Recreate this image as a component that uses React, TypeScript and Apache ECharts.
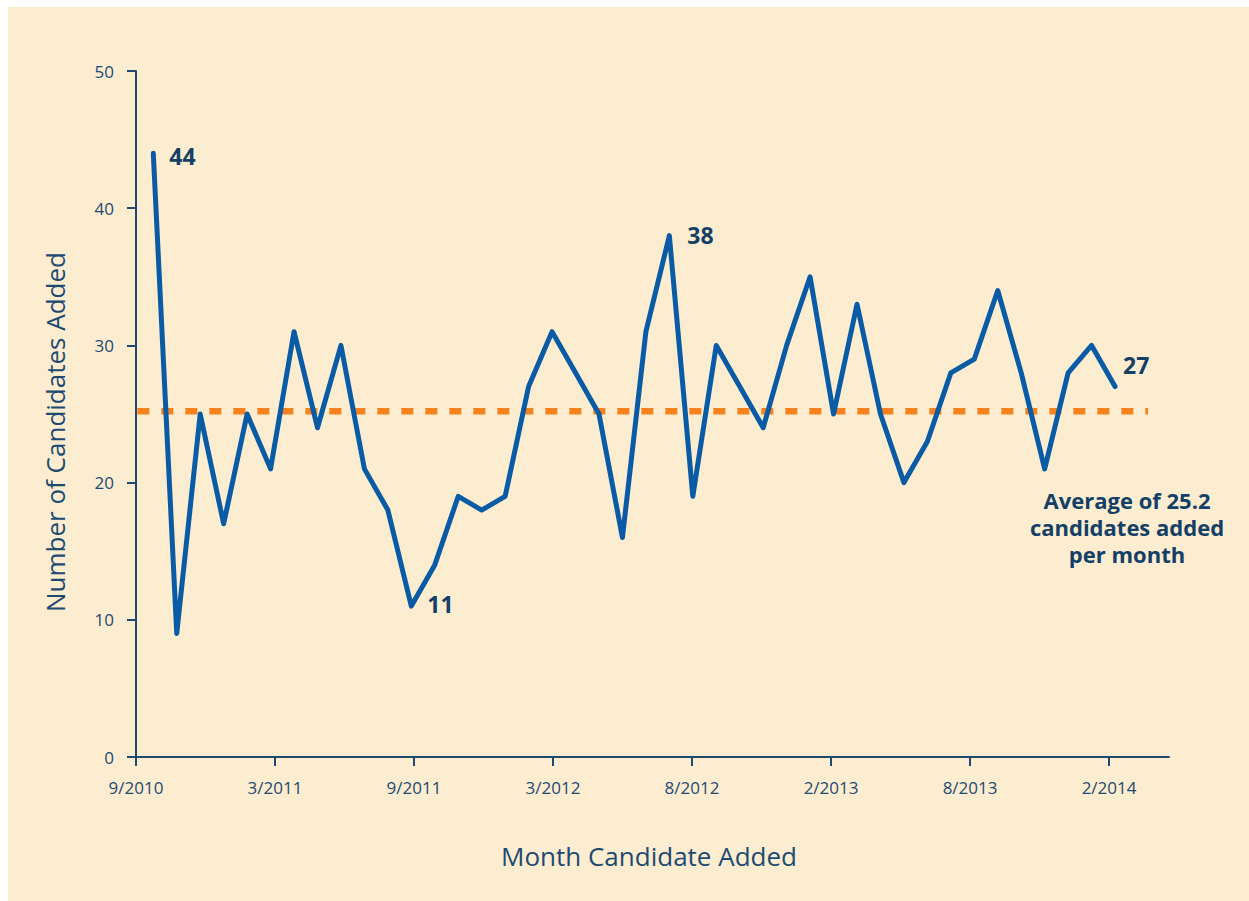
import React, { useEffect, useRef } from "react";
import * as echarts from "echarts";

// ---- data ----
const candidatesAdded = [
  44, 9, 25, 17, 25, 21, 31, 24, 30, 21, 18, 11, 14, 19, 18, 19, 27, 31, 28, 25, 16,
  31, 38, 19, 30, 27, 24, 30, 35, 25, 33, 25, 20, 23, 28, 29, 34, 28, 21, 28, 30, 27,
];
const tickLabels = ["9/2010", "3/2011", "9/2011", "3/2012", "8/2012", "2/2013", "8/2013", "2/2014"];
const averageValue = 25.2;
const labeledPoints = [0, 11, 22, 41];
const annotationLines = ["Average of 25.2", "candidates added", "per month"];
const xTitle = "Month Candidate Added";
const yTitle = "Number of Candidates Added";

// ---- layout / style ----
const NAVY = "#1d4a70";
const NAVY_DARK = "#143f66";
const BLUE = "#0a5ba6";
const ORANGE = "#f5821f";
const BG = "#fcecd0";
const FONT = "'Open Sans', 'Noto Sans', sans-serif";
const TICK_START = -0.737;
const TICK_STEP = 5.926;
const X_MIN = TICK_START;
const X_MAX = 43.3;
const AVG_X0 = -0.68;
const AVG_X1 = 42.41;
const labelOffsets: Record<number, [number, number]> = {
  0: [0, 3],
  11: [0, -2],
  22: [2, -1],
  41: [-8, -22],
};

export default function App() {
  const ref = useRef<HTMLDivElement>(null);
  useEffect(() => {
    if (!ref.current) return;
    const chart = echarts.init(ref.current, undefined, { renderer: "svg" });
    const tickPos = tickLabels.map((_, k) => TICK_START + k * TICK_STEP);
    const lineData = candidatesAdded.map((v, i) => {
      const item: any = { value: [i, v] };
      if (labeledPoints.includes(i)) {
        item.label = {
          show: true,
          position: "right",
          distance: 15,
          offset: labelOffsets[i] || [0, 0],
          formatter: (p: any) => String(p.value[1]),
          color: NAVY_DARK,
          fontSize: 23,
          fontWeight: "bold",
          fontFamily: FONT,
        };
      }
      return item;
    });
    chart.setOption({
      animation: false,
      backgroundColor: BG,
      grid: { left: 128, right: 80, top: 64, bottom: 144, outerBoundsMode: "none", containLabel: false },
      xAxis: {
        type: "value",
        min: X_MIN,
        max: X_MAX,
        axisLine: { show: true, onZero: false, lineStyle: { color: NAVY, width: 2 } },
        axisTick: { show: true, customValues: tickPos, length: 9, lineStyle: { color: NAVY, width: 2 } },
        axisLabel: {
          customValues: tickPos,
          formatter: (v: number) => {
            let best = 0;
            tickPos.forEach((t, k) => {
              if (Math.abs(t - v) < Math.abs(tickPos[best] - v)) best = k;
            });
            return tickLabels[best];
          },
          margin: 22,
          color: NAVY,
          fontSize: 17,
          fontFamily: FONT,
        },
        splitLine: { show: false },
      },
      yAxis: {
        type: "value",
        min: 0,
        max: 50,
        interval: 10,
        axisLine: { show: true, onZero: false, lineStyle: { color: NAVY, width: 2 } },
        axisTick: { show: true, length: 9, lineStyle: { color: NAVY, width: 2 } },
        axisLabel: { margin: 22, color: NAVY, fontSize: 17, fontFamily: FONT },
        splitLine: { show: false },
      },
      series: [
        {
          type: "line",
          data: [
            [AVG_X0, averageValue],
            [AVG_X1, averageValue],
          ],
          symbol: "none",
          lineStyle: { color: ORANGE, width: 6.5, type: [12, 12], cap: "butt" },
          silent: true,
          z: 1,
        },
        {
          type: "line",
          data: lineData,
          symbol: "circle",
          symbolSize: 2,
          showSymbol: true,
          itemStyle: { color: BLUE },
          lineStyle: { color: BLUE, width: 5, join: "round", cap: "round" },
          z: 2,
        },
      ],
      graphic: [
        {
          type: "text",
          x: 47,
          y: 425,
          rotation: Math.PI / 2,
          style: { text: yTitle, fill: NAVY, fontSize: 26, fontFamily: FONT, align: "center", verticalAlign: "middle" },
        },
        {
          type: "text",
          x: 641,
          y: 849,
          style: { text: xTitle, fill: NAVY, fontSize: 26, fontFamily: FONT, align: "center", verticalAlign: "middle" },
        },
        {
          type: "text",
          x: 1119,
          y: 520,
          style: {
            text: annotationLines.join("\n"),
            fill: NAVY_DARK,
            fontSize: 22,
            fontWeight: "bold",
            lineHeight: 27,
            fontFamily: FONT,
            align: "center",
            verticalAlign: "middle",
          },
        },
      ],
    });
    return () => chart.dispose();
  }, []);
  return (
    <div
      ref={ref}
      style={{ position: "absolute", left: 8, top: 7, width: 1241, height: 894 }}
    />
  );
}
